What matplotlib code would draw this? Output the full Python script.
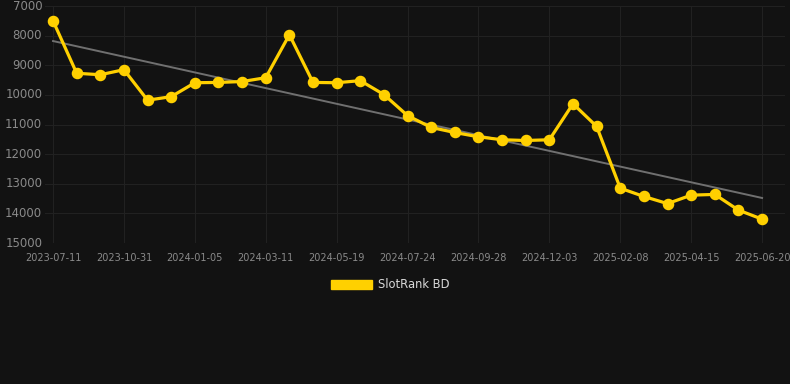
import numpy as np
import matplotlib
matplotlib.use("Agg")
import matplotlib.pyplot as plt
from matplotlib.patches import Patch

tick_labels = ["2023-07-11", "2023-10-31", "2024-01-05", "2024-03-11", "2024-05-19",
               "2024-07-24", "2024-09-28", "2024-12-03", "2025-02-08", "2025-04-15",
               "2025-06-20"]
ranks = [7500, 9270, 9320, 9150, 10180, 10060, 9590, 9580, 9550, 9420,
         7970, 9580, 9590, 9520, 9990, 10700, 11100, 11270, 11415, 11515,
         11540, 11515, 10300, 11065, 13150, 13430, 13670, 13385, 13360, 13890,
         14195]
series_name = "SlotRank BD"

bg = "#121212"
W, H = 790, 384
fig = plt.figure(figsize=(W / 100, H / 100), dpi=100, facecolor=bg)
ax = fig.add_axes([45 / W, 1 - 243 / H, (785 - 45) / W, (243 - 6) / H], facecolor=bg)

x = np.arange(len(ranks))
ax.plot(x, ranks, color="#FFD000", lw=2.3, marker="o", ms=7.3, zorder=3)

coef = np.polyfit(x, ranks, 1)
ax.plot(x, np.polyval(coef, x), color="#707070", lw=1.4, zorder=2)

ax.set_xlim(-0.34, 30.97)
ax.set_ylim(15000, 7000)
ax.set_yticks(np.arange(7000, 15001, 1000))
ax.set_xticks(x[::3])
ax.set_xticklabels(tick_labels)

ax.grid(True, color="#212121", lw=0.8)
for s in ax.spines.values():
    s.set_visible(False)
ax.tick_params(axis="y", length=0, pad=2, labelcolor="#8a8a8a", labelsize=8.5)
ax.tick_params(axis="x", length=0, pad=7, labelcolor="#8a8a8a", labelsize=7)
for lab in ax.get_yticklabels():
    lab.set_va("center")

leg = fig.legend(handles=[Patch(facecolor="#FFD000", edgecolor="#FFD000")],
                 labels=[series_name], loc="center", bbox_to_anchor=(390 / W, 1 - 285 / H),
                 frameon=False, handlelength=3.6, handleheight=0.9, fontsize=8.3,
                 labelcolor="#d8d8d8", handletextpad=0.5)

fig.savefig("out.png", dpi=100, facecolor=bg)
